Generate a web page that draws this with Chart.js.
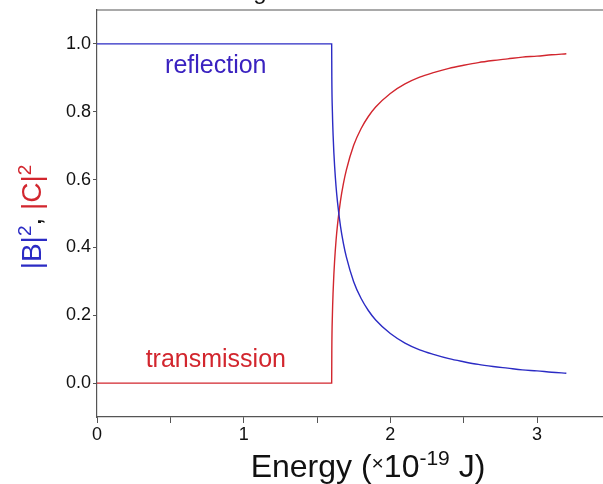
<!DOCTYPE html>
<html>
<head>
<meta charset="utf-8">
<script src="https://cdn.jsdelivr.net/npm/chart.js@4/dist/chart.umd.min.js"></script>
<style>
  html, body { margin: 0; padding: 0; background: #fff; }
  #wrap { width: 603px; height: 484px; position: relative; }
</style>
</head>
<body>
<div id="wrap"><canvas id="chart" width="603" height="484"></canvas></div>
<script>
// energy in units of 1e-19 J
const energy = [0, 1.6, 1.601, 1.605, 1.61, 1.615, 1.62, 1.63, 1.64, 1.66, 1.68, 1.7, 1.75, 1.8, 1.85, 1.9,
  2.0, 2.1, 2.2, 2.3, 2.4, 2.5, 2.6, 2.7, 2.8, 2.9, 3.0, 3.1, 3.2];
const reflection = [1.0, 1.0, 0.905, 0.80, 0.729, 0.679, 0.64, 0.579, 0.533, 0.463, 0.412, 0.372, 0.299, 0.25, 0.214, 0.186,
  0.146, 0.118, 0.098, 0.084, 0.072, 0.063, 0.055, 0.049, 0.044, 0.039, 0.036, 0.032, 0.029];
const transmission = [0, 0, 0.095, 0.20, 0.271, 0.321, 0.36, 0.421, 0.467, 0.537, 0.588, 0.628, 0.701, 0.75, 0.786, 0.814,
  0.854, 0.882, 0.902, 0.916, 0.928, 0.937, 0.945, 0.951, 0.956, 0.961, 0.964, 0.968, 0.971];

const xTicks = [0, 0.5, 1, 1.5, 2, 2.5, 3];
const yTicks = [0, 0.2, 0.4, 0.6, 0.8, 1.0];

const BLUE = '#2b2bc4';
const RED = '#d2262e';
const AXIS = '#555';
const FONT = '"Liberation Sans", Arial, sans-serif';

// label anchors (data coords)
const labels = [
  { text: 'reflection', x: 0.81, y: 0.935, color: '#3a22c0' },
  { text: 'transmission', x: 0.81, y: 0.067, color: RED },
];

function pts(ys) {
  return energy.map((e, i) => ({ x: e, y: ys[i] }));
}

// draws top frame, annotations and the axis titles
const decor = {
  id: 'decor',
  afterDraw(chart) {
    const { ctx, chartArea, scales } = chart;
    ctx.save();

    ctx.strokeStyle = AXIS;
    ctx.lineWidth = 1.2;
    ctx.beginPath();
    ctx.moveTo(chartArea.left, chartArea.top);
    ctx.lineTo(chart.width, chartArea.top);
    ctx.stroke();

    // cut-off title descender
    ctx.fillStyle = '#111';
    ctx.font = `24px ${FONT}`;
    ctx.textAlign = 'center';
    ctx.textBaseline = 'alphabetic';
    ctx.fillText('g', 260, -1);

    ctx.font = `25px ${FONT}`;
    ctx.textBaseline = 'middle';
    labels.forEach((l) => {
      ctx.fillStyle = l.color;
      ctx.fillText(l.text, scales.x.getPixelForValue(l.x), scales.y.getPixelForValue(l.y));
    });

    // y title, rotated
    const big = `28px ${FONT}`;
    const sup = `19px ${FONT}`;
    const yParts = [
      { t: '|B|', f: big, c: BLUE, dy: 0 },
      { t: '2', f: sup, c: BLUE, dy: -10 },
      { t: ', ', f: big, c: '#111', dy: 0 },
      { t: '|C|', f: big, c: RED, dy: 0 },
      { t: '2', f: sup, c: RED, dy: -10 },
    ];
    drawParts(ctx, yParts, 41, 217, -Math.PI / 2);

    const xb = `32px ${FONT}`;
    const xs = `21px ${FONT}`;
    const xParts = [
      { t: 'Energy (', f: xb, c: '#111', dy: 0 },
      { t: '\u00d7', f: xs, c: '#111', dy: -7 },
      { t: '10', f: xb, c: '#111', dy: 0 },
      { t: '-19', f: xs, c: '#111', dy: -12 },
      { t: ' J)', f: xb, c: '#111', dy: 0 },
    ];
    drawParts(ctx, xParts, 368, 477, 0);

    ctx.restore();
  },
};

function drawParts(ctx, parts, cx, baseY, rot) {
  let total = 0;
  parts.forEach((p) => { ctx.font = p.f; p.w = ctx.measureText(p.t).width; total += p.w; });
  ctx.save();
  ctx.translate(cx, baseY);
  ctx.rotate(rot);
  ctx.textAlign = 'left';
  ctx.textBaseline = 'alphabetic';
  let x = -total / 2;
  parts.forEach((p) => {
    ctx.font = p.f;
    ctx.fillStyle = p.c;
    ctx.fillText(p.t, x, p.dy);
    x += p.w;
  });
  ctx.restore();
}

new Chart(document.getElementById('chart'), {
  type: 'scatter',
  data: {
    datasets: [
      { label: 'reflection', data: pts(reflection), showLine: true, borderColor: BLUE, borderWidth: 1.4, pointRadius: 0, cubicInterpolationMode: 'monotone' },
      { label: 'transmission', data: pts(transmission), showLine: true, borderColor: RED, borderWidth: 1.4, pointRadius: 0, cubicInterpolationMode: 'monotone' },
    ],
  },
  options: {
    responsive: false,
    animation: false,
    layout: { padding: { top: 10, right: 0, left: 0, bottom: 0 } },
    plugins: { legend: { display: false }, tooltip: { enabled: false } },
    scales: {
      x: {
        type: 'linear',
        min: 0,
        max: 3.45,
        afterBuildTicks(scale) { scale.ticks = xTicks.map((v) => ({ value: v })); },
        afterFit(scale) { scale.height = 67; scale.paddingLeft = 0; scale.paddingRight = 0; },
        ticks: {
          color: '#111',
          font: { family: FONT, size: 18 },
          padding: 1,
          maxRotation: 0,
          autoSkip: false,
          callback(v) { return Number.isInteger(v) ? String(v) : ''; },
        },
        grid: { drawOnChartArea: false, tickLength: 6, color: AXIS },
        border: { color: AXIS, width: 1.2 },
      },
      y: {
        min: -0.1,
        max: 1.1,
        afterBuildTicks(scale) { scale.ticks = yTicks.map((v) => ({ value: v })); },
        afterFit(scale) { scale.width = 97; scale.paddingTop = 0; scale.paddingBottom = 0; },
        ticks: {
          color: '#111',
          font: { family: FONT, size: 18 },
          padding: 2,
          autoSkip: false,
          callback(v) { return v.toFixed(1); },
        },
        grid: { drawOnChartArea: false, tickLength: 4, color: AXIS },
        border: { color: AXIS, width: 1.2 },
      },
    },
  },
  plugins: [decor],
});
</script>
</body>
</html>
